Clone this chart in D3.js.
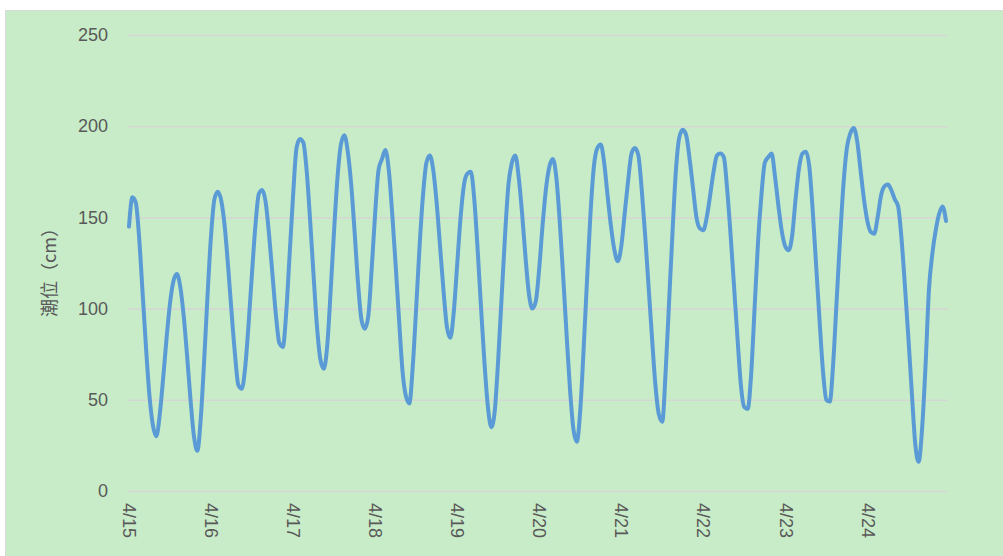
<!DOCTYPE html>
<html>
<head>
<meta charset="utf-8">
<script src="https://cdn.jsdelivr.net/npm/d3@7"></script>
<style>
  body { margin: 0; background: #fff; }
  svg { display: block; }
</style>
</head>
<body>
<div class="container"></div>
<script>
const WIDTH = 1003,
    HEIGHT = 556,
    LEFT = 129,
    RIGHT = 946,
    TOP = 35,
    BOTTOM = 491;

// tick labels
const dayLabels = ['4/15', '4/16', '4/17', '4/18', '4/19', '4/20', '4/21', '4/22', '4/23', '4/24'];
const yTicks = [0, 50, 100, 150, 200, 250];

// hourly tide level (cm), one array per day
const tide0415 = [145, 161, 158, 138, 108, 78, 52, 36, 30, 42, 62, 84, 103, 115, 119, 112, 96, 74, 50, 30, 22, 40, 72, 108];
const tide0416 = [140, 160, 164, 159, 145, 123, 98, 75, 58, 56, 68, 92, 120, 146, 163, 165, 158, 140, 118, 96, 81, 79, 98, 130];
const tide0417 = [162, 188, 193, 191, 175, 148, 118, 90, 72, 67, 80, 110, 143, 172, 190, 195, 186, 168, 142, 114, 94, 89, 96, 122];
const tide0418 = [152, 176, 182, 187, 176, 152, 124, 94, 66, 52, 48, 68, 100, 134, 162, 180, 184, 176, 158, 134, 110, 90, 84, 98];
const tide0419 = [124, 150, 168, 174, 175, 160, 132, 100, 70, 46, 35, 44, 72, 106, 140, 168, 180, 184, 172, 152, 128, 108, 100, 104];
const tide0420 = [122, 146, 166, 178, 182, 172, 148, 118, 86, 56, 34, 27, 44, 78, 116, 152, 178, 188, 190, 180, 162, 145, 132, 126];
const tide0421 = [134, 152, 170, 185, 188, 184, 165, 140, 112, 84, 58, 42, 38, 66, 104, 142, 176, 194, 198, 195, 182, 166, 150, 144];
const tide0422 = [143, 150, 162, 175, 184, 185, 183, 165, 140, 112, 84, 58, 46, 45, 64, 100, 136, 162, 180, 183, 185, 172, 156, 142];
const tide0423 = [134, 132, 140, 160, 177, 185, 186, 178, 154, 124, 94, 66, 50, 49, 70, 104, 138, 168, 188, 196, 199, 192, 176, 160];
const tide0424 = [148, 142, 141, 150, 162, 167, 168, 165, 160, 156, 138, 112, 84, 54, 26, 16, 34, 68, 110, 130, 143, 152, 156, 148];

const tide = [].concat(tide0415, tide0416, tide0417, tide0418, tide0419,
    tide0420, tide0421, tide0422, tide0423, tide0424);

const x = d3.scaleLinear()
    .domain([0, tide.length - 1])
    .range([LEFT, RIGHT]);

const y = d3.scaleLinear()
    .domain([0, 250])
    .range([BOTTOM, TOP]);

const svg = d3.select('.container').append('svg')
    .attr('width', WIDTH)
    .attr('height', HEIGHT);

// chart area
svg.append('rect')
    .attr('x', 5.5)
    .attr('y', 10.5)
    .attr('width', WIDTH)
    .attr('height', HEIGHT)
    .attr('fill', '#c8ecc8')
    .attr('stroke', '#d9d9d9');

// y axis + gridlines
const yAxis = d3.axisLeft(y)
    .tickValues(yTicks)
    .tickSize(-(948 - 128))
    .tickPadding(20);

svg.append('g')
    .attr('transform', 'translate(128,0)')
    .call(yAxis)
    .call(g => g.select('.domain').remove())
    .call(g => g.selectAll('line').attr('stroke', '#d5d8d2').attr('stroke-width', 1.6))
    .call(g => g.selectAll('text')
        .attr('fill', '#595959')
        .style('font', '18px "Liberation Sans", Arial, sans-serif'));

// x axis, one label a day
const xAxis = d3.axisBottom(x)
    .tickValues(dayLabels.map((d, i) => i * 24))
    .tickFormat((d) => dayLabels[d / 24])
    .tickSize(0);

svg.append('g')
    .attr('transform', `translate(0,${BOTTOM})`)
    .call(xAxis)
    .call(g => g.select('.domain').remove())
    .call(g => g.selectAll('text')
        .attr('transform', 'rotate(90)')
        .attr('x', 12)
        .attr('y', 0)
        .attr('dy', '0.35em')
        .attr('text-anchor', 'start')
        .attr('fill', '#595959')
        .style('font', '18px "Liberation Sans", Arial, sans-serif'));

// axis title
svg.append('text')
    .attr('transform', 'translate(50,268) rotate(-90)')
    .attr('text-anchor', 'middle')
    .attr('dy', '0.35em')
    .attr('fill', '#595959')
    .style('font', '18px "Noto Sans CJK SC", sans-serif')
    .text('潮位（cm）');

// tide line
const line = d3.line()
    .x((d, i) => x(i))
    .y((d) => y(d))
    .curve(d3.curveMonotoneX);

svg.append('path')
    .attr('d', line(tide))
    .attr('fill', 'none')
    .attr('stroke', '#5b9bd5')
    .attr('stroke-width', 4)
    .attr('stroke-linejoin', 'round')
    .attr('stroke-linecap', 'round');
</script>
</body>
</html>
